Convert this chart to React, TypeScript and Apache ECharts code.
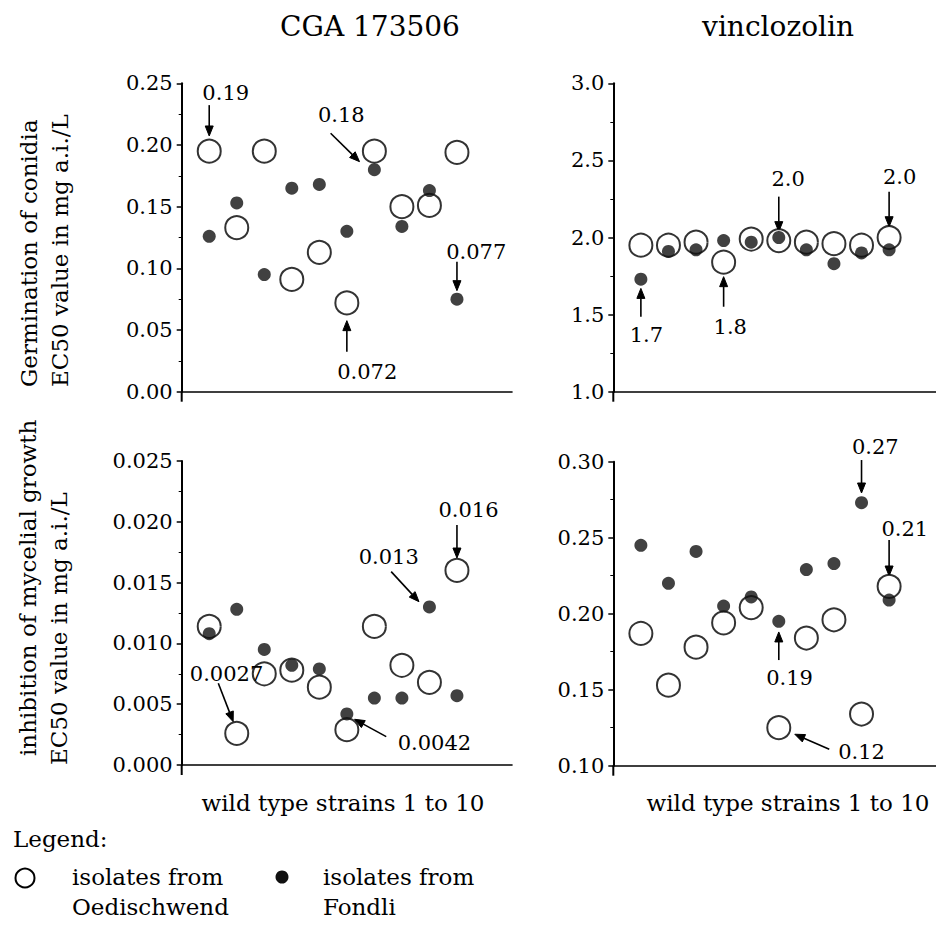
import React, { useEffect, useRef } from 'react';
import * as echarts from 'echarts';

// ---------------- data ----------------
const strains = [1, 2, 3, 4, 5, 6, 7, 8, 9, 10];

// Germination of conidia, CGA 173506
const germCgaOed = [0.195, 0.133, 0.195, 0.091, 0.113, 0.072, 0.195, 0.15, 0.151, 0.194];
const germCgaFon = [0.126, 0.153, 0.095, 0.165, 0.168, 0.13, 0.18, 0.134, 0.163, 0.075];
// Germination of conidia, vinclozolin
const germVinOed = [1.95, 1.95, 1.97, 1.84, 1.99, 1.98, 1.97, 1.96, 1.95, 2.0];
const germVinFon = [1.73, 1.91, 1.92, 1.98, 1.97, 2.0, 1.92, 1.83, 1.9, 1.92];
// Inhibition of mycelial growth, CGA 173506
const mycCgaOed = [0.0114, 0.0026, 0.0075, 0.0078, 0.0064, 0.0029, 0.0114, 0.0082, 0.0068, 0.016];
const mycCgaFon = [0.0108, 0.0128, 0.0095, 0.0082, 0.0079, 0.0042, 0.0055, 0.0055, 0.013, 0.0057];
// Inhibition of mycelial growth, vinclozolin
const mycVinOed = [0.187, 0.153, 0.178, 0.194, 0.204, 0.125, 0.184, 0.196, 0.134, 0.218];
const mycVinFon = [0.245, 0.22, 0.241, 0.205, 0.211, 0.195, 0.229, 0.233, 0.273, 0.209];

const yTicksGermCga = [0, 0.25, 0.05, 2];
const yTicksGermVin = [1.0, 3.0, 0.5, 1];
const yTicksMycCga = [0, 0.025, 0.005, 3];
const yTicksMycVin = [0.1, 0.3, 0.05, 2];

// annotation labels: text, label position (data units), arrow from -> to (data units)
const annGermCga = [
  { text: '0.19', at: [1.6, 0.242], from: [1, 0.2323], to: [1, 0.2073] },
  { text: '0.18', at: [5.8, 0.2243], from: [5.41, 0.2095], to: [6.46, 0.1865] },
  { text: '0.072', at: [6.74, 0.0162], from: [6, 0.0324], to: [6, 0.0576] },
  { text: '0.077', at: [10.7, 0.1135], from: [10, 0.1054], to: [10, 0.0819] },
];
const annGermVin = [
  { text: '1.7', at: [1.2, 1.368], from: [1, 1.486], to: [1, 1.67] },
  { text: '1.8', at: [4.24, 1.418], from: [4, 1.551], to: [4, 1.746] },
  { text: '2.0', at: [6.34, 2.377], from: [6, 2.265], to: [6, 2.038] },
  { text: '2.0', at: [10.38, 2.39], from: [10, 2.297], to: [10, 2.07] },
];
const annMycCga = [
  { text: '0.0027', at: [1.63, 0.00748], from: [1.33, 0.00672], to: [1.87, 0.00356] },
  { text: '0.0042', at: [9.18, 0.00178], from: [7.43, 0.00233], to: [6.28, 0.00376] },
  { text: '0.013', at: [7.52, 0.01713], from: [7.61, 0.0159], to: [8.62, 0.01343] },
  { text: '0.016', at: [10.42, 0.02097], from: [10, 0.01974], to: [10, 0.01702] },
];
const annMycVin = [
  { text: '0.27', at: [9.5, 0.3099], from: [9, 0.3011], to: [9, 0.2794] },
  { text: '0.21', at: [10.57, 0.2555], from: [10, 0.2485], to: [10, 0.2248] },
  { text: '0.19', at: [6.39, 0.1575], from: [6, 0.1695], to: [6, 0.188] },
  { text: '0.12', at: [9.0, 0.1092], from: [7.83, 0.1108], to: [6.58, 0.1207] },
];

const FONT = '"DejaVu Serif", serif';

const panels = [
  { oed: germCgaOed, fon: germCgaFon, ticks: yTicksGermCga, ann: annGermCga, left: 181.7, top: 83.3, width: 330.3, height: 308.4, xMax: 12 },
  { oed: germVinOed, fon: germVinFon, ticks: yTicksGermVin, ann: annGermVin, left: 613.3, top: 83.3, width: 322.7, height: 308.4, xMax: 11.7 },
  { oed: mycCgaOed, fon: mycCgaFon, ticks: yTicksMycCga, ann: annMycCga, left: 181.7, top: 461, width: 330.3, height: 304, xMax: 12 },
  { oed: mycVinOed, fon: mycVinFon, ticks: yTicksMycVin, ann: annMycVin, left: 613.3, top: 461.7, width: 322.7, height: 304, xMax: 11.7 },
];

function buildOption() {
  const grid: any[] = [];
  const xAxis: any[] = [];
  const yAxis: any[] = [];
  const series: any[] = [];
  panels.forEach((p, i) => {
    grid.push({ left: p.left, top: p.top, width: p.width, height: p.height, containLabel: false });
    xAxis.push({
      type: 'value', gridIndex: i, min: 0, max: p.xMax,
      axisLine: { show: true, onZero: false, lineStyle: { color: '#000', width: 1.6 } },
      axisTick: { show: false }, axisLabel: { show: false }, splitLine: { show: false },
    });
    const [mn, mx, iv, dec] = p.ticks;
    yAxis.push({
      type: 'value', gridIndex: i, min: mn, max: mx, interval: iv,
      axisLine: { show: true, onZero: false, lineStyle: { color: '#000', width: 2 } },
      axisTick: { show: true, length: 5, lineStyle: { color: '#000', width: 1.5 } },
      minorTick: { show: true, splitNumber: 2, length: 3, lineStyle: { color: '#000', width: 1 } },
      axisLabel: {
        show: true, margin: 9, color: '#000', fontFamily: FONT, fontSize: 21,
        padding: [0, 0, 6, 0],
        formatter: (v: number) => v.toFixed(dec),
      },
      splitLine: { show: false },
    });
    series.push({
      name: 'isolates from Oedischwend', type: 'scatter', xAxisIndex: i, yAxisIndex: i,
      symbol: 'circle', symbolSize: 23, z: 2,
      itemStyle: { color: '#fff', borderColor: '#000', borderWidth: 2 },
      data: strains.map((s, k) => [s, p.oed[k]]),
    });
    series.push({
      name: 'isolates from Fondli', type: 'scatter', xAxisIndex: i, yAxisIndex: i,
      symbol: 'circle', symbolSize: 13, z: 3,
      itemStyle: { color: '#111' },
      data: strains.map((s, k) => [s, p.fon[k]]),
    });
  });
  return { animation: false, backgroundColor: '#fff', grid, xAxis, yAxis, series };
}

function txt(text: string, x: number, y: number, size: number, align = 'center', rotation = 0) {
  return {
    type: 'text', x, y, rotation, z: 10,
    style: {
      text, fill: '#000', font: `${size}px ${FONT}`,
      align, verticalAlign: 'middle', textAlign: align, textVerticalAlign: 'middle',
    },
  };
}

function buildGraphics(chart: any) {
  const g: any[] = [];
  // titles
  g.push(txt('CGA 173506', 370, 26, 28));
  g.push(txt('vinclozolin', 778, 26, 28));
  // y axis titles (rotated)
  g.push(txt('Germination of conidia', 29, 387, 23, 'left', Math.PI / 2));
  g.push(txt('EC50 value in mg a.i./L', 60, 387, 23, 'left', Math.PI / 2));
  g.push(txt('inhibition of mycelial growth', 28, 756, 23, 'left', Math.PI / 2));
  g.push(txt('EC50 value in mg a.i./L', 59, 765, 23, 'left', Math.PI / 2));
  // x axis titles
  g.push(txt('wild type strains 1 to 10', 343, 803, 23));
  g.push(txt('wild type strains 1 to 10', 788, 803, 23));
  // legend
  g.push(txt('Legend:', 13, 839, 23, 'left'));
  g.push({ type: 'circle', shape: { cx: 25, cy: 878, r: 9.5 }, style: { fill: '#fff', stroke: '#000', lineWidth: 2 } });
  g.push(txt('isolates from', 72, 877, 23, 'left'));
  g.push(txt('Oedischwend', 72, 907, 23, 'left'));
  g.push({ type: 'circle', shape: { cx: 282, cy: 877, r: 6.5 }, style: { fill: '#111' } });
  g.push(txt('isolates from', 323, 877, 23, 'left'));
  g.push(txt('Fondli', 323, 907, 23, 'left'));

  panels.forEach((p, i) => {
    const finder = { xAxisIndex: i, yAxisIndex: i };
    const conv = (pt: number[]) => chart.convertToPixel(finder, pt) as number[];
    // y axis extends a little below the x axis
    const base = conv([0, p.ticks[0]]);
    g.push({ type: 'line', shape: { x1: base[0], y1: base[1], x2: base[0], y2: base[1] + 10 }, style: { stroke: '#000', lineWidth: 2 } });
    p.ann.forEach((a) => {
      const at = conv(a.at);
      g.push(txt(a.text, at[0], at[1], 21));
      const p1 = conv(a.from);
      const p2 = conv(a.to);
      const dx = p2[0] - p1[0];
      const dy = p2[1] - p1[1];
      const len = Math.sqrt(dx * dx + dy * dy) || 1;
      const ux = dx / len, uy = dy / len;
      const hl = 10, hw = 4;
      const bx = p2[0] - ux * hl, by = p2[1] - uy * hl;
      g.push({ type: 'line', shape: { x1: p1[0], y1: p1[1], x2: bx, y2: by }, style: { stroke: '#000', lineWidth: 1.6 } });
      g.push({
        type: 'polygon',
        shape: { points: [[p2[0], p2[1]], [bx - uy * hw, by + ux * hw], [bx + uy * hw, by - ux * hw]] },
        style: { fill: '#000', stroke: '#000', lineWidth: 1 },
      });
    });
  });
  return g;
}

export default function App() {
  const ref = useRef<HTMLDivElement>(null);
  useEffect(() => {
    const chart = echarts.init(ref.current!, undefined, { renderer: 'svg' });
    chart.setOption(buildOption());
    chart.setOption({ graphic: buildGraphics(chart) });
    return () => chart.dispose();
  }, []);
  return <div ref={ref} style={{ position: 'absolute', left: 0, top: 0, width: 936, height: 927, background: '#fff' }} />;
}
